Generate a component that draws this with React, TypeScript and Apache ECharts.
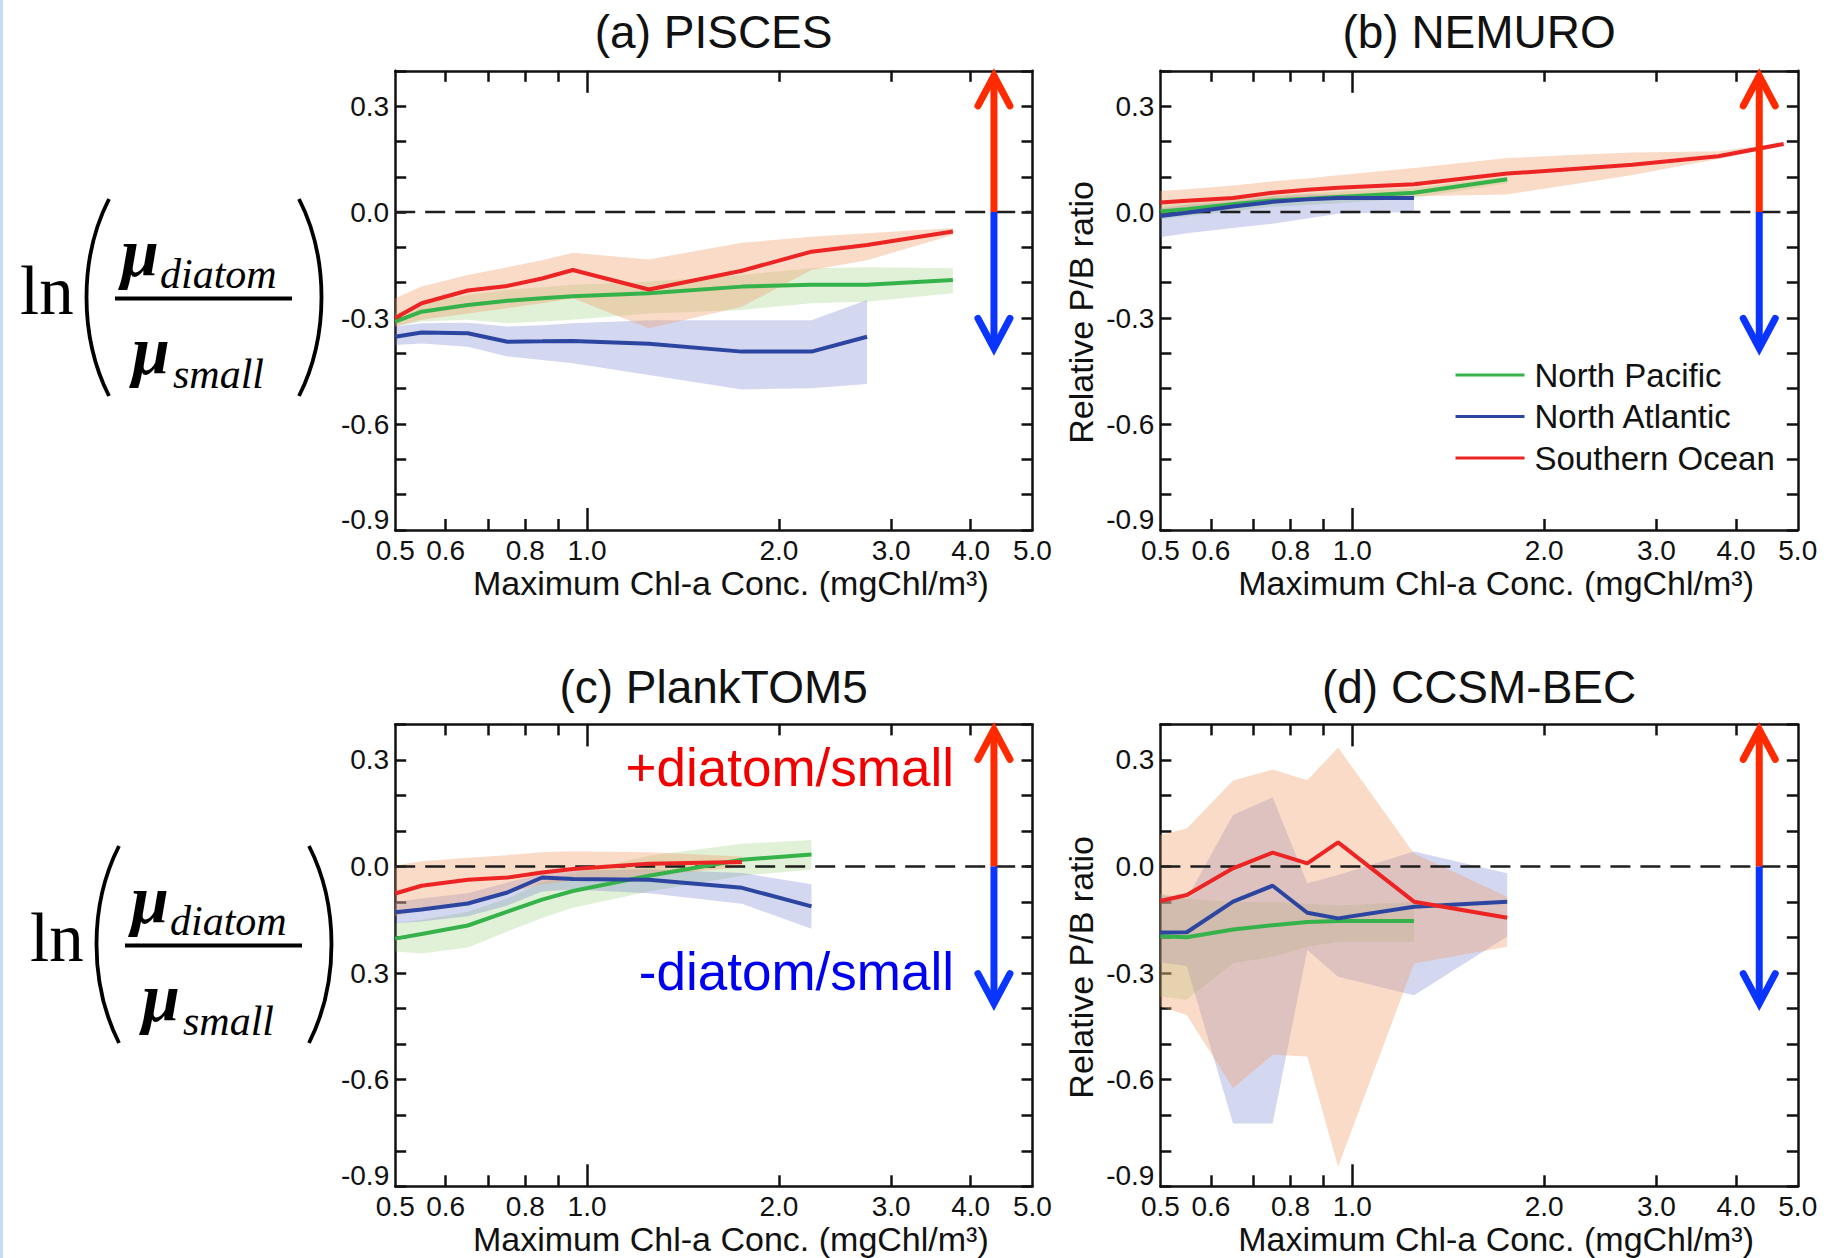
import React, { useEffect, useRef } from 'react';
import * as echarts from 'echarts';

// ---------- axis ranges & ticks ----------
const X_MIN = 0.5;
const X_MAX = 5;
const Y_MIN = -0.9;
const Y_MAX = 0.4;
const Y_STEP = 0.1;

const chlBins = [0.5, 0.55, 0.65, 0.75, 0.85, 0.95, 1.25, 1.75, 2.25, 2.75, 3.75, 4.75];
const xMinorTicks = [0.6, 0.7, 0.8, 0.9, 2, 3, 4];
const xMajorTicks = [1];
const xTickLabels = [0.5, 0.6, 0.8, 1, 2, 3, 4, 5];
const yTickLabels = [-0.9, -0.6, -0.3, 0, 0.3];
const regions = ['North Pacific', 'North Atlantic', 'Southern Ocean'];
const panelTitles = ['(a) PISCES', '(b) NEMURO', '(c) PlankTOM5', '(d) CCSM-BEC'];
const xAxisTitle = 'Maximum Chl-a Conc. (mgChl/m³)';
const yAxisTitle = 'Relative P/B ratio';
const plusText = '+diatom/small';
const minusText = '-diatom/small';

// arrow annotation (data coords)
const arrowX = 4.35;
const arrowBase = 0;
const arrowTop = 0.4;
const arrowBottom = -0.4;

// ---------- (a) PISCES ----------
const piscesPacific = [-0.31, -0.282, -0.263, -0.251, -0.244, -0.238, -0.23, -0.211, -0.206, -0.206, -0.192];
const piscesPacificHi = [-0.287, -0.258, -0.235, -0.22, -0.213, -0.206, -0.197, -0.178, -0.159, -0.156, -0.159];
const piscesPacificLo = [-0.324, -0.31, -0.305, -0.315, -0.31, -0.305, -0.287, -0.277, -0.258, -0.254, -0.23];
const piscesAtlantic = [-0.353, -0.341, -0.343, -0.367, -0.366, -0.365, -0.373, -0.395, -0.395, -0.353];
const piscesAtlanticHi = [-0.324, -0.315, -0.313, -0.324, -0.32, -0.315, -0.306, -0.306, -0.306, -0.249];
const piscesAtlanticLo = [-0.376, -0.372, -0.381, -0.409, -0.419, -0.428, -0.461, -0.502, -0.499, -0.487];
const piscesSouthern = [-0.3, -0.258, -0.222, -0.209, -0.188, -0.164, -0.219, -0.166, -0.112, -0.093, -0.055];
const piscesSouthernHi = [-0.244, -0.211, -0.178, -0.156, -0.136, -0.115, -0.134, -0.087, -0.07, -0.06, -0.045];
const piscesSouthernLo = [-0.324, -0.305, -0.287, -0.272, -0.258, -0.244, -0.329, -0.268, -0.164, -0.136, -0.065];

// ---------- (b) NEMURO ----------
const nemuroPacific = [0.002, 0.008, 0.022, 0.033, 0.038, 0.043, 0.055, 0.093];
const nemuroPacificHi = [0.02, 0.025, 0.038, 0.048, 0.053, 0.058, 0.068, 0.1];
const nemuroPacificLo = [-0.02, -0.012, 0.002, 0.015, 0.02, 0.025, 0.04, 0.082];
const nemuroAtlantic = [-0.011, -0.002, 0.016, 0.029, 0.036, 0.04, 0.04];
const nemuroAtlanticHi = [0.011, 0.02, 0.03, 0.045, 0.05, 0.05, 0.048];
const nemuroAtlanticLo = [-0.071, -0.06, -0.045, -0.033, -0.018, -0.005, 0.0];
const nemuroSouthern = [0.027, 0.032, 0.04, 0.055, 0.063, 0.069, 0.079, 0.109, 0.123, 0.134, 0.158, 0.193];
const nemuroSouthernHi = [0.06, 0.065, 0.075, 0.087, 0.095, 0.104, 0.125, 0.153, 0.162, 0.169, 0.172, 0.196];
const nemuroSouthernLo = [0.005, 0.01, 0.02, 0.028, 0.035, 0.04, 0.045, 0.05, 0.08, 0.105, 0.15, 0.188];

// ---------- (c) PlankTOM5 ----------
const plankPacific = [-0.203, -0.19, -0.166, -0.127, -0.093, -0.069, -0.026, 0.019, 0.034];
const plankPacificHi = [-0.16, -0.15, -0.127, -0.09, -0.045, -0.02, 0.03, 0.064, 0.075];
const plankPacificLo = [-0.239, -0.245, -0.228, -0.183, -0.145, -0.116, -0.07, -0.026, -0.009];
const plankAtlantic = [-0.129, -0.121, -0.104, -0.073, -0.031, -0.035, -0.037, -0.06, -0.112];
const plankAtlanticHi = [-0.1, -0.09, -0.075, -0.045, -0.02, -0.012, -0.008, -0.018, -0.05];
const plankAtlanticLo = [-0.16, -0.155, -0.14, -0.11, -0.07, -0.065, -0.075, -0.105, -0.175];
const plankSouthern = [-0.076, -0.054, -0.037, -0.031, -0.017, -0.007, 0.008, 0.013];
const plankSouthernHi = [0.003, 0.015, 0.025, 0.032, 0.04, 0.043, 0.04, 0.028];
const plankSouthernLo = [-0.14, -0.12, -0.1, -0.075, -0.05, -0.04, -0.025, -0.002];

// ---------- (d) CCSM-BEC ----------
const ccsmPacific = [-0.196, -0.199, -0.177, -0.165, -0.156, -0.153, -0.153];
const ccsmPacificHi = [-0.075, -0.09, -0.1, -0.1, -0.105, -0.11, -0.1];
const ccsmPacificLo = [-0.366, -0.375, -0.272, -0.254, -0.226, -0.212, -0.212];
const ccsmAtlantic = [-0.186, -0.185, -0.099, -0.054, -0.13, -0.146, -0.113, -0.099];
const ccsmAtlanticHi = [-0.08, -0.09, 0.145, 0.195, -0.047, -0.024, 0.042, -0.019];
const ccsmAtlanticLo = [-0.27, -0.28, -0.723, -0.723, -0.235, -0.31, -0.362, -0.197];
const ccsmSouthern = [-0.097, -0.08, -0.005, 0.039, 0.009, 0.068, -0.099, -0.144];
const ccsmSouthernHi = [0.089, 0.107, 0.242, 0.273, 0.243, 0.335, 0.037, -0.085];
const ccsmSouthernLo = [-0.394, -0.418, -0.624, -0.53, -0.535, -0.845, -0.273, -0.226];

// ---------- styling ----------
const INK = '#111111';
const FONT = '"Liberation Sans", Arial, Helvetica, sans-serif';
const SERIF = '"Liberation Serif", "Times New Roman", serif';
const TICK_FS = 28;
const lineColors = ['#36b24a', '#2c45a0', '#ec2424'];
const bandColors = ['rgba(140,200,100,0.26)', 'rgba(100,110,200,0.28)', 'rgba(240,160,110,0.38)'];
const ARROW_RED = '#ff2a00';
const ARROW_BLUE = '#0a35ff';

const gridRects = [
  { left: 395.2, top: 70.8, width: 637.3, height: 459.2 },
  { left: 1160.4, top: 70.8, width: 637.4, height: 459.2 },
  { left: 395.2, top: 724.4, width: 637.3, height: 461.9 },
  { left: 1160.4, top: 724.4, width: 637.4, height: 461.9 },
];

const panels = [
  {
    title: panelTitles[0], yName: '', hideMinusAt: null,
    sets: [
      [piscesPacific, piscesPacificLo, piscesPacificHi],
      [piscesAtlantic, piscesAtlanticLo, piscesAtlanticHi],
      [piscesSouthern, piscesSouthernLo, piscesSouthernHi],
    ],
  },
  {
    title: panelTitles[1], yName: yAxisTitle, hideMinusAt: null,
    sets: [
      [nemuroPacific, nemuroPacificLo, nemuroPacificHi],
      [nemuroAtlantic, nemuroAtlanticLo, nemuroAtlanticHi],
      [nemuroSouthern, nemuroSouthernLo, nemuroSouthernHi],
    ],
  },
  {
    title: panelTitles[2], yName: '', hideMinusAt: -0.3,
    sets: [
      [plankPacific, plankPacificLo, plankPacificHi],
      [plankAtlantic, plankAtlanticLo, plankAtlanticHi],
      [plankSouthern, plankSouthernLo, plankSouthernHi],
    ],
  },
  {
    title: panelTitles[3], yName: yAxisTitle, hideMinusAt: null,
    sets: [
      [ccsmPacific, ccsmPacificLo, ccsmPacificHi],
      [ccsmAtlantic, ccsmAtlanticLo, ccsmAtlanticHi],
      [ccsmSouthern, ccsmSouthernLo, ccsmSouthernHi],
    ],
  },
];

function buildOption() {
  const grid: any[] = [];
  const xAxis: any[] = [];
  const yAxis: any[] = [];
  const series: any[] = [];
  const tickStyle = { color: INK, width: 2.5 };

  const labelValues = xTickLabels.map((v) => Math.min(Math.max(v, X_MIN * 1.0002), X_MAX * 0.9998));

  panels.forEach((p, g) => {
    grid.push({ ...gridRects[g], show: false, containLabel: false, outerBoundsMode: 'none' });
    const xBase = {
      type: 'log', logBase: 10, gridIndex: g, min: X_MIN, max: X_MAX,
      splitLine: { show: false }, minorTick: { show: false }, silent: true,
    };
    xAxis.push({
      ...xBase, position: 'bottom',
      axisLine: { show: true, onZero: false, lineStyle: tickStyle },
      axisTick: { show: true, inside: true, length: 11, customValues: xMinorTicks, lineStyle: tickStyle },
      axisLabel: {
        show: true, customValues: labelValues, margin: 6, fontSize: TICK_FS, color: INK, fontFamily: FONT,
        formatter: (v: number) => Number(v).toFixed(1),
      },
      name: xAxisTitle, nameLocation: 'middle', nameGap: 36,
      nameTextStyle: { fontSize: 34, color: INK, fontFamily: FONT, padding: [0, 0, 0, 34] },
    });
    xAxis.push({
      ...xBase, position: 'bottom',
      axisLine: { show: false, onZero: false },
      axisTick: { show: true, inside: true, length: 22, customValues: xMajorTicks, lineStyle: tickStyle },
      axisLabel: { show: false },
    });
    xAxis.push({
      ...xBase, position: 'top',
      axisLine: { show: true, onZero: false, lineStyle: tickStyle },
      axisTick: { show: true, inside: true, length: 11, customValues: xMinorTicks, lineStyle: tickStyle },
      axisLabel: { show: false },
    });
    xAxis.push({
      ...xBase, position: 'top',
      axisLine: { show: false, onZero: false },
      axisTick: { show: true, inside: true, length: 22, customValues: xMajorTicks, lineStyle: tickStyle },
      axisLabel: { show: false },
    });

    const yBase = {
      type: 'value', gridIndex: g, min: Y_MIN, max: Y_MAX, interval: Y_STEP,
      splitLine: { show: false }, silent: true,
      axisLine: { show: true, onZero: false, lineStyle: tickStyle },
      axisTick: { show: true, inside: true, length: 11, lineStyle: tickStyle },
    };
    const hide = p.hideMinusAt;
    yAxis.push({
      ...yBase, position: 'left',
      axisLabel: {
        show: true, margin: 6, fontSize: TICK_FS, color: INK, fontFamily: FONT,
        formatter: (v: number) => {
          const r = Math.round(v * 10) / 10;
          if (!yTickLabels.some((t) => Math.abs(t - r) < 1e-6)) return '';
          let s = (r === 0 ? 0 : r).toFixed(1);
          if (hide !== null && Math.abs(r - hide) < 1e-6) s = s.replace('-', '');
          if (Math.abs(r - Y_MIN) < 1e-6) return '{lift|' + s + '}';
          return s;
        },
        rich: {
          lift: { fontSize: TICK_FS, color: INK, fontFamily: FONT, padding: [0, 0, 22, 0] },
        },
      },
      name: p.yName, nameLocation: 'middle', nameGap: 62, nameRotate: 90,
      nameTextStyle: { fontSize: 34, color: INK, fontFamily: FONT, padding: [0, 24, 0, 0] },
    });
    yAxis.push({ ...yBase, position: 'right', axisLabel: { show: false } });

    const xi = 4 * g;
    const yi = 2 * g;

    // uncertainty bands
    p.sets.forEach((set, k) => {
      const [mid, lo, hi] = set;
      const xs = chlBins.slice(0, mid.length);
      const data = xs.map((x, i) => [x, lo[i], hi[i]]);
      series.push({
        type: 'custom', name: 'band-' + g + '-' + k, xAxisIndex: xi, yAxisIndex: yi,
        silent: true, z: 1, data,
        encode: { x: 0, y: [1, 2] },
        renderItem: (params: any, api: any) => {
          if (params.dataIndex !== 0) return null;
          const pts: number[][] = [];
          for (let i = 0; i < data.length; i++) pts.push(api.coord([data[i][0], data[i][2]]));
          for (let i = data.length - 1; i >= 0; i--) pts.push(api.coord([data[i][0], data[i][1]]));
          return { type: 'polygon', shape: { points: pts }, style: { fill: bandColors[k] } };
        },
      });
    });

    // zero reference line
    series.push({
      type: 'line', name: 'zero-' + g, xAxisIndex: xi, yAxisIndex: yi,
      data: [[X_MIN, 0], [X_MAX, 0]], symbol: 'none', silent: true, z: 2,
      lineStyle: { color: '#1e1e1e', width: 2.5, type: [20, 10] },
    });

    // mean lines
    p.sets.forEach((set, k) => {
      const [mid] = set;
      const xs = chlBins.slice(0, mid.length);
      series.push({
        type: 'line', name: regions[k], xAxisIndex: xi, yAxisIndex: yi,
        data: xs.map((x, i) => [x, mid[i]]), symbol: 'none', showSymbol: false, silent: true, z: 3,
        color: lineColors[k],
        lineStyle: { color: lineColors[k], width: 4 },
        itemStyle: { color: lineColors[k] },
      });
    });

    // direction arrow
    series.push({
      type: 'custom', name: 'arrow-' + g, xAxisIndex: xi, yAxisIndex: yi, silent: true, z: 4,
      data: [[arrowX, arrowBase, arrowTop, arrowBottom]],
      encode: { x: 0, y: [1, 2, 3] },
      renderItem: (params: any, api: any) => {
        const x = api.value(0);
        const c = api.coord([x, api.value(1)]);
        const t = api.coord([x, api.value(2)]);
        const b = api.coord([x, api.value(3)]);
        const hw = 16, hh = 30, lw = 7;
        const tipT = t[1] + 5;
        const tipB = b[1] - 5;
        return {
          type: 'group',
          children: [
            { type: 'line', shape: { x1: c[0], y1: c[1], x2: t[0], y2: tipT }, style: { stroke: ARROW_RED, lineWidth: lw } },
            { type: 'polyline', shape: { points: [[t[0] - hw, tipT + hh], [t[0], tipT], [t[0] + hw, tipT + hh]] }, style: { stroke: ARROW_RED, fill: null, lineWidth: lw, lineJoin: 'miter', lineCap: 'round' } },
            { type: 'line', shape: { x1: c[0], y1: c[1], x2: b[0], y2: tipB }, style: { stroke: ARROW_BLUE, lineWidth: lw } },
            { type: 'polyline', shape: { points: [[b[0] - hw, tipB - hh], [b[0], tipB], [b[0] + hw, tipB - hh]] }, style: { stroke: ARROW_BLUE, fill: null, lineWidth: lw, lineJoin: 'miter', lineCap: 'round' } },
          ],
        };
      },
    });
  });

  // ---------- graphic: titles, formulas, annotations ----------
  const titleCenters = [
    [713.6, 32.4], [1479.1, 32.4], [713.6, 686.6], [1479.1, 686.6],
  ];
  const graphic: any[] = [
    { type: 'rect', left: 0, top: 0, shape: { x: 0, y: 0, width: 3, height: 1258 }, style: { fill: '#c6daf2' }, silent: true },
  ];
  panels.forEach((p, g) => {
    graphic.push({
      type: 'text', x: titleCenters[g][0], y: titleCenters[g][1], silent: true,
      style: { text: p.title, fontSize: 46, fontFamily: FONT, fill: INK, align: 'center', verticalAlign: 'middle' },
    });
  });

  const MU_FS = 68;
  const formula = (dx: number, dy: number) => ({
    type: 'group', x: dx, y: dy, silent: true,
    children: [
      { type: 'text', x: 30, y: 961 - 0.3375 * 69, style: { text: 'ln', fontSize: 69, fontFamily: SERIF, fill: '#000', align: 'left', verticalAlign: 'middle' } },
      { type: 'bezierCurve', shape: { x1: 119, y1: 846, x2: 119, y2: 1043, cpx1: 89, cpy1: 905, cpx2: 89, cpy2: 983 }, style: { stroke: '#000', lineWidth: 3.8, fill: null } },
      { type: 'bezierCurve', shape: { x1: 309, y1: 846, x2: 309, y2: 1043, cpx1: 339, cpy1: 905, cpx2: 339, cpy2: 983 }, style: { stroke: '#000', lineWidth: 3.8, fill: null } },
      { type: 'line', shape: { x1: 125, y1: 945.5, x2: 302, y2: 945.5 }, style: { stroke: '#000', lineWidth: 4 } },
      { type: 'text', x: 131, y: 923 - 0.3375 * MU_FS, style: { text: 'μ', fontSize: MU_FS, fontStyle: 'italic', fontWeight: 'bold', fontFamily: SERIF, fill: '#000', align: 'left', verticalAlign: 'middle' } },
      { type: 'text', x: 170, y: 935 - 0.3375 * 42, style: { text: 'diatom', fontSize: 42, fontStyle: 'italic', fontFamily: SERIF, fill: '#000', align: 'left', verticalAlign: 'middle' } },
      { type: 'text', x: 142, y: 1021 - 0.3375 * MU_FS, style: { text: 'μ', fontSize: MU_FS, fontStyle: 'italic', fontWeight: 'bold', fontFamily: SERIF, fill: '#000', align: 'left', verticalAlign: 'middle' } },
      { type: 'text', x: 183, y: 1035 - 0.3375 * 42, style: { text: 'small', fontSize: 42, fontStyle: 'italic', fontFamily: SERIF, fill: '#000', align: 'left', verticalAlign: 'middle' } },
    ],
  });
  graphic.push(formula(-10, -647));
  graphic.push(formula(0, 0));

  graphic.push({
    type: 'text', x: 954, y: 786 - 0.3465 * 53, silent: true,
    style: { text: plusText, fontSize: 53, fontFamily: FONT, fill: '#f20000', align: 'right', verticalAlign: 'middle' },
  });
  graphic.push({
    type: 'text', x: 954, y: 990 - 0.3465 * 53, silent: true,
    style: { text: minusText, fontSize: 53, fontFamily: FONT, fill: '#0000f0', align: 'right', verticalAlign: 'middle' },
  });

  return {
    animation: false,
    backgroundColor: '#ffffff',
    textStyle: { fontFamily: FONT },
    grid,
    xAxis,
    yAxis,
    legend: {
      data: regions,
      orient: 'vertical',
      left: 1455.5,
      top: 358,
      padding: 0,
      icon: 'rect',
      itemWidth: 69,
      itemHeight: 3,
      itemGap: 7.5,
      selectedMode: false,
      textStyle: { fontSize: 33, color: INK, fontFamily: FONT, lineHeight: 34, padding: [0, 0, 0, 5] },
    },
    series,
    graphic,
  };
}

export default function App() {
  const ref = useRef<HTMLDivElement>(null);
  useEffect(() => {
    if (!ref.current) return;
    const chart = echarts.init(ref.current, undefined, { renderer: 'svg', width: 1837, height: 1258 });
    chart.setOption(buildOption() as any);
    return () => chart.dispose();
  }, []);
  return (
    <div
      ref={ref}
      style={{ position: 'absolute', left: 0, top: 0, width: 1837, height: 1258, background: '#fff' }}
    />
  );
}
